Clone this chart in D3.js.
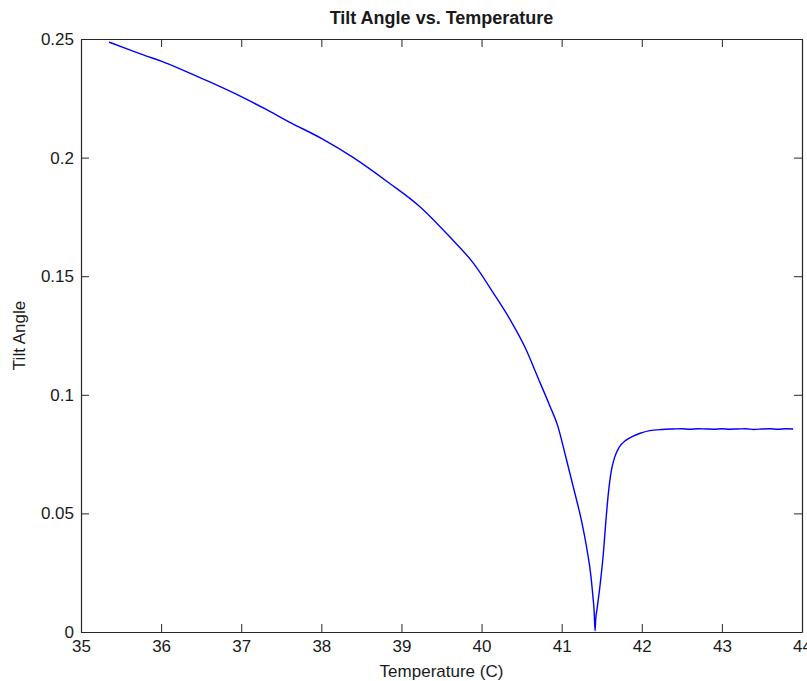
<!DOCTYPE html>
<html>
<head>
<meta charset="utf-8">
<script src="https://cdn.jsdelivr.net/npm/d3@7"></script>
<style>
  body { margin: 0; background: #fff; }
  text { font-family: "Liberation Sans", Arial, sans-serif; fill: #1a1a1a; }
</style>
</head>
<body>
<script>
// values
var temperature = [35.35, 35.6, 35.8, 36.0, 36.3, 36.6, 37.0, 37.3, 37.6, 38.0, 38.4, 38.85, 39.23, 39.6, 39.9,
  40.15, 40.36, 40.55, 40.7, 40.85, 40.95, 41.05, 41.15, 41.25, 41.32, 41.36, 41.39, 41.405, 41.417, 41.425,
  41.44, 41.48, 41.52, 41.55, 41.58, 41.62, 41.66, 41.72, 41.8, 41.88, 41.98, 42.1, 42.25, 42.4,
  42.5, 42.6, 42.7, 42.8, 42.9, 43.0, 43.1, 43.2, 43.3, 43.4, 43.5, 43.6, 43.7, 43.8, 43.89];
var tilt = [0.2487, 0.2455, 0.2430, 0.2407, 0.2365, 0.2320, 0.2257, 0.2205, 0.2150, 0.2081, 0.2000, 0.1892, 0.1793, 0.1667, 0.1554,
  0.1428, 0.1315, 0.1195, 0.1075, 0.0955, 0.0870, 0.0740, 0.0605, 0.0465, 0.0340, 0.0250, 0.0150, 0.0090, 0.0005, 0.0055,
  0.0093, 0.0200, 0.0330, 0.0460, 0.0575, 0.0680, 0.0735, 0.0780, 0.0808, 0.0824, 0.0838, 0.0849, 0.0854, 0.0856,
  0.0857, 0.0855, 0.0857, 0.0856, 0.0855, 0.0857, 0.0855, 0.0856, 0.0857, 0.0854, 0.0856, 0.0857, 0.0855, 0.0857, 0.0856];
var xTicks = [35, 36, 37, 38, 39, 40, 41, 42, 43, 44];
var yTicks = [0, 0.05, 0.1, 0.15, 0.2, 0.25];
var yTickLabels = ["0", "0.05", "0.1", "0.15", "0.2", "0.25"];

var data = temperature.map(function (t, i) { return { t: t, v: tilt[i] }; });

var W = 807, H = 681;
var margin = { top: 39, right: 5, bottom: 49, left: 81 };
var width = W - margin.left - margin.right,
    height = H - margin.top - margin.bottom;

var svg = d3.select("body").append("svg")
  .attr("width", W)
  .attr("height", H);

var g = svg.append("g")
  .attr("transform", "translate(" + margin.left + "," + margin.top + ")");

var x = d3.scaleLinear().domain([35, 44]).range([0, width]);
var y = d3.scaleLinear().domain([0, 0.25]).range([height, 0]);

// axes with inward ticks, mirrored on top and right
var axisColor = "#262626";
function styleAxis(sel) {
  sel.selectAll("path, line").attr("stroke", axisColor);
  sel.select(".domain").attr("stroke-width", 1.2);
  sel.selectAll("text").attr("font-size", "17px").attr("fill", "#1a1a1a");
}

g.append("g")
  .attr("transform", "translate(0," + height + ")")
  .call(d3.axisBottom(x).tickValues(xTicks).tickSizeInner(-8).tickSizeOuter(0).tickPadding(8).tickFormat(d3.format("d")))
  .call(styleAxis);

g.append("g")
  .call(d3.axisLeft(y).tickValues(yTicks).tickSizeInner(-8).tickSizeOuter(0).tickPadding(7)
    .tickFormat(function (d, i) { return yTickLabels[i]; }))
  .call(styleAxis);

g.append("g")
  .call(d3.axisTop(x).tickValues(xTicks).tickSizeInner(-8).tickSizeOuter(0).tickFormat(""))
  .call(styleAxis);

g.append("g")
  .attr("transform", "translate(" + width + ",0)")
  .call(d3.axisRight(y).tickValues(yTicks).tickSizeInner(-8).tickSizeOuter(0).tickFormat(""))
  .call(styleAxis);

// the curve
var line = d3.line()
  .curve(d3.curveMonotoneX)
  .x(function (d) { return x(d.t); })
  .y(function (d) { return y(d.v); });

g.append("path")
  .datum(data)
  .attr("fill", "none")
  .attr("stroke", "#0000ff")
  .attr("stroke-width", 1.4)
  .attr("stroke-linejoin", "round")
  .attr("d", line);

// labels
svg.append("text")
  .attr("x", margin.left + width / 2)
  .attr("y", 24)
  .attr("text-anchor", "middle")
  .attr("font-size", "18px")
  .attr("font-weight", "bold")
  .text("Tilt Angle vs. Temperature");

svg.append("text")
  .attr("x", margin.left + width / 2)
  .attr("y", 677)
  .attr("text-anchor", "middle")
  .attr("font-size", "17px")
  .text("Temperature (C)");

svg.append("text")
  .attr("transform", "translate(25," + (margin.top + height / 2) + ") rotate(-90)")
  .attr("text-anchor", "middle")
  .attr("font-size", "17px")
  .text("Tilt Angle");
</script>
</body>
</html>
